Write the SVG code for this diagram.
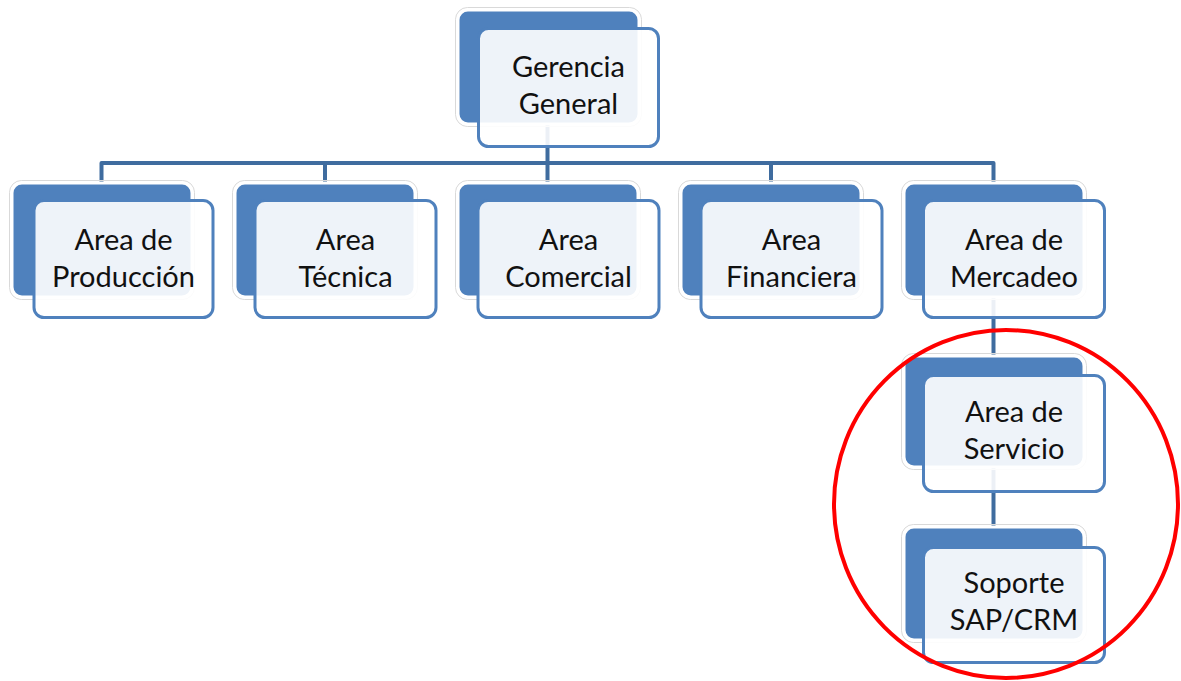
<svg xmlns="http://www.w3.org/2000/svg" width="1181" height="681" viewBox="0 0 1181 681">
  <style>
    .halo { fill: none; stroke: #d9d9d9; stroke-width: 1; }
    .back { fill: #4F81BD; stroke: #ffffff; stroke-width: 3; }
    .front { fill: #ffffff; fill-opacity: 0.9; stroke: #4F81BD; stroke-width: 3; }
    .label { font-family: Lato, "Open Sans", "Liberation Sans", sans-serif; font-size: 29px; fill: #111111; text-anchor: middle; }
    .link { fill: none; stroke: #3F6C9F; stroke-width: 4; stroke-linejoin: round; }
  </style>

  <!-- connectors (drawn under the boxes) -->
  <g id="connectors">
    <path class="link" d="M547.5,120 V163"/>
    <path class="link" d="M101.5,183 V163 H993.5 V183"/>
    <path class="link" d="M325,163 V183"/>
    <path class="link" d="M547.5,163 V183"/>
    <path class="link" d="M771,163 V183"/>
    <path class="link" d="M993.5,295 V357"/>
    <path class="link" d="M993.5,465 V528"/>
  </g>

  <!-- Gerencia General -->
  <g id="gerencia-general">
    <rect class="halo" x="455.5" y="7.5" width="186" height="119" rx="12"/>
    <rect class="back" x="458" y="10" width="181" height="114" rx="10"/>
    <rect class="front" x="478.5" y="28.5" width="180" height="118" rx="10"/>
    <text class="label" x="568.5" y="77">Gerencia</text>
    <text class="label" x="568.5" y="114">General</text>
  </g>

  <!-- Area de Producción -->
  <g id="area-produccion">
    <rect class="halo" x="9.5" y="180.5" width="185" height="119" rx="12"/>
    <rect class="back" x="12" y="183" width="180" height="114" rx="10"/>
    <rect class="front" x="34" y="200.5" width="179" height="117" rx="10"/>
    <text class="label" x="123.5" y="250">Area de</text>
    <text class="label" x="123.5" y="287">Producción</text>
  </g>

  <!-- Area Técnica -->
  <g id="area-tecnica">
    <rect class="halo" x="232.5" y="180.5" width="185" height="119" rx="12"/>
    <rect class="back" x="235" y="183" width="180" height="114" rx="10"/>
    <rect class="front" x="255" y="200.5" width="181" height="117" rx="10"/>
    <text class="label" x="345.5" y="250">Area</text>
    <text class="label" x="345.5" y="287">Técnica</text>
  </g>

  <!-- Area Comercial -->
  <g id="area-comercial">
    <rect class="halo" x="455.5" y="180.5" width="185" height="119" rx="12"/>
    <rect class="back" x="458" y="183" width="180" height="114" rx="10"/>
    <rect class="front" x="478" y="200.5" width="181" height="117" rx="10"/>
    <text class="label" x="568.5" y="250">Area</text>
    <text class="label" x="568.5" y="287">Comercial</text>
  </g>

  <!-- Area Financiera -->
  <g id="area-financiera">
    <rect class="halo" x="678.5" y="180.5" width="185" height="119" rx="12"/>
    <rect class="back" x="681" y="183" width="180" height="114" rx="10"/>
    <rect class="front" x="701" y="200.5" width="181" height="117" rx="10"/>
    <text class="label" x="791.5" y="250">Area</text>
    <text class="label" x="791.5" y="287">Financiera</text>
  </g>

  <!-- Area de Mercadeo -->
  <g id="area-mercadeo">
    <rect class="halo" x="901.5" y="180.5" width="185" height="119" rx="12"/>
    <rect class="back" x="904" y="183" width="180" height="114" rx="10"/>
    <rect class="front" x="923.5" y="200.5" width="181" height="117" rx="10"/>
    <text class="label" x="1014" y="250">Area de</text>
    <text class="label" x="1014" y="287">Mercadeo</text>
  </g>

  <!-- Area de Servicio -->
  <g id="area-servicio">
    <rect class="halo" x="901.5" y="353.5" width="185" height="116" rx="12"/>
    <rect class="back" x="904" y="356" width="180" height="111" rx="10"/>
    <rect class="front" x="923.5" y="375.5" width="181" height="116" rx="10"/>
    <text class="label" x="1014" y="422">Area de</text>
    <text class="label" x="1014" y="459">Servicio</text>
  </g>

  <!-- Soporte SAP/CRM -->
  <g id="soporte-sap-crm">
    <rect class="halo" x="901.5" y="524.5" width="185" height="118" rx="12"/>
    <rect class="back" x="904" y="527" width="180" height="113" rx="10"/>
    <rect class="front" x="923.5" y="547.5" width="181" height="115" rx="10"/>
    <text class="label" x="1014" y="593">Soporte</text>
    <text class="label" x="1014" y="630">SAP/CRM</text>
  </g>

  <!-- highlight ring around the service branch -->
  <g id="highlight">
    <ellipse cx="1006" cy="504" rx="172" ry="174" fill="none" stroke="#FF0000" stroke-width="4"/>
  </g>
</svg>
